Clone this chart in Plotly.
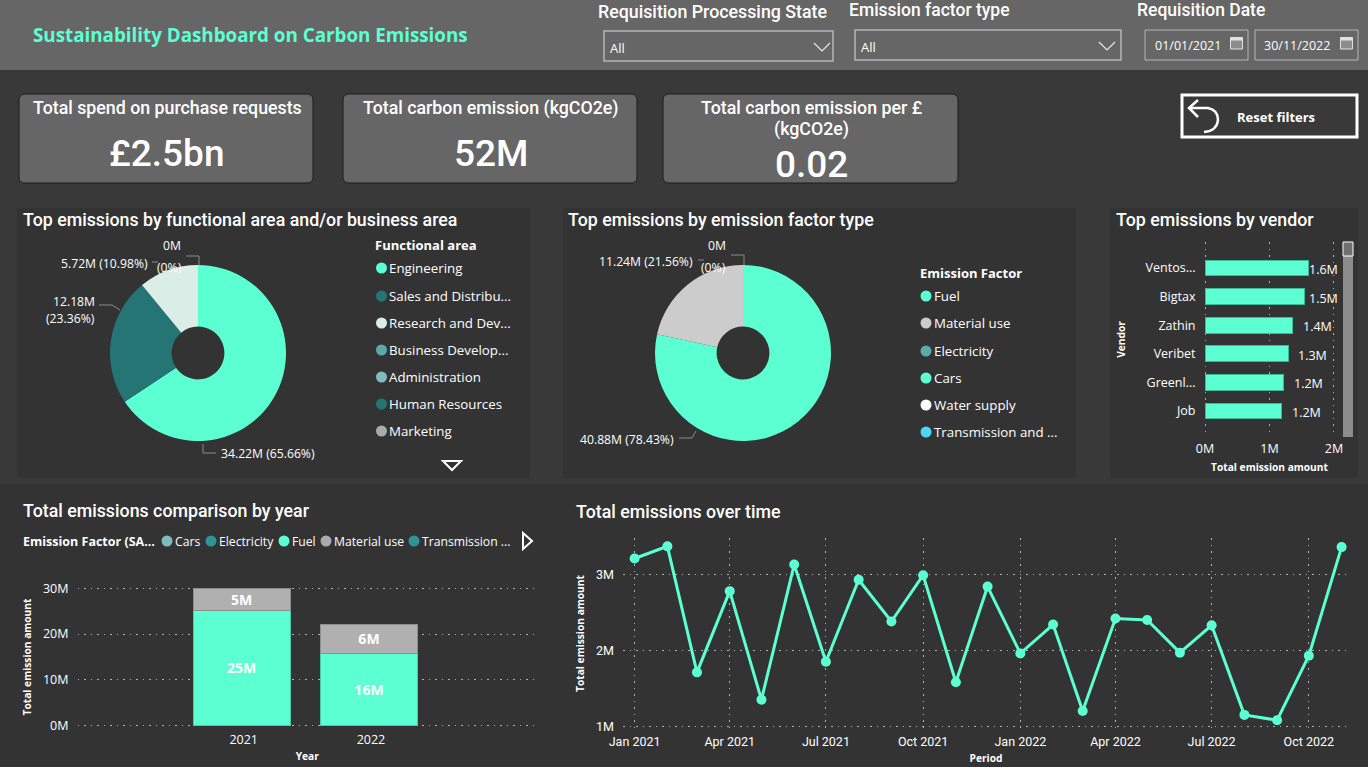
import plotly.graph_objects as go

W, H = 1368, 767
MINT = "#5CFFD2"
TITLE_FONT = "Roboto"
BODY_FONT = "Open Sans"

# ---- data ----
area_labels = ["Engineering", "Sales and Distribution", "Research and Development", "Other"]
area_values = [34.22, 12.18, 5.72, 0.001]
area_colors = [MINT, "#267575", "#DAEDE7", "#AAAAAA"]
factor_labels = ["Fuel", "Material use", "Other"]
factor_values = [40.88, 11.24, 0.001]
factor_colors = [MINT, "#CCCCCC", "#5BAAAA"]

area_legend = ["Engineering", "Sales and Distribu...", "Research and Dev...", "Business Develop...",
               "Administration", "Human Resources", "Marketing"]
area_legend_colors = [MINT, "#267575", "#DAEDE7", "#5BAAAA", "#7FBDBD", "#267575", "#AAAAAA"]
factor_legend = ["Fuel", "Material use", "Electricity", "Cars", "Water supply", "Transmission and ..."]
factor_legend_colors = [MINT, "#CCCCCC", "#5BAAAA", MINT, "#FFFFFF", "#4FD6F0"]

vendors = ["Ventos...", "Bigtax", "Zathin", "Veribet", "Greenl...", "Job"]
vendor_values = [1.61, 1.54, 1.36, 1.29, 1.22, 1.19]
vendor_text = ["1.6M", "1.5M", "1.4M", "1.3M", "1.2M", "1.2M"]

years = [2021, 2022]
fuel_by_year = [25.2, 15.8]
material_by_year = [4.8, 6.3]
fuel_text = ["25M", "16M"]
material_text = ["5M", "6M"]
year_legend = ["Cars", "Electricity", "Fuel", "Material use", "Transmission ..."]
year_legend_colors = ["#7FBDBD", "#2F9494", MINT, "#AAAAAA", "#2F9494"]

periods = ["2021-01-01", "2021-02-01", "2021-03-01", "2021-04-01", "2021-05-01", "2021-06-01",
           "2021-07-01", "2021-08-01", "2021-09-01", "2021-10-01", "2021-11-01", "2021-12-01",
           "2022-01-01", "2022-02-01", "2022-03-01", "2022-04-01", "2022-05-01", "2022-06-01",
           "2022-07-01", "2022-08-01", "2022-09-01", "2022-10-01", "2022-11-01"]
period_values = [3.21, 3.37, 1.71, 2.78, 1.35, 3.13, 1.85, 2.93, 2.38, 2.99, 1.58, 2.84,
                 1.96, 2.34, 1.20, 2.42, 2.40, 1.97, 2.33, 1.15, 1.08, 1.93, 3.36]


def px(x):
    return x / W


def py(y):
    return 1 - y / H


def dom_x(a, b):
    return [px(a), px(b)]


def dom_y(top, bottom):
    return [py(bottom), py(top)]


shapes, annots = [], []


def rect(x0, y0, x1, y1, fill="rgba(0,0,0,0)", line=None, lw=0):
    shapes.append(dict(type="rect", xref="paper", yref="paper", x0=px(x0), x1=px(x1), y0=py(y1), y1=py(y0),
                       fillcolor=fill, line=dict(color=line or "rgba(0,0,0,0)", width=lw), layer="below"))


def rrect(x0, y0, x1, y1, r, fill, line):
    p = (f"M {px(x0+r)} {py(y0)} L {px(x1-r)} {py(y0)} Q {px(x1)} {py(y0)} {px(x1)} {py(y0+r)} "
         f"L {px(x1)} {py(y1-r)} Q {px(x1)} {py(y1)} {px(x1-r)} {py(y1)} "
         f"L {px(x0+r)} {py(y1)} Q {px(x0)} {py(y1)} {px(x0)} {py(y1-r)} "
         f"L {px(x0)} {py(y0+r)} Q {px(x0)} {py(y0)} {px(x0+r)} {py(y0)} Z")
    shapes.append(dict(type="path", xref="paper", yref="paper", path=p, fillcolor=fill,
                       line=dict(color=line, width=1), layer="below"))


def poly(points, color="#FFFFFF", lw=1, layer="above", fill="rgba(0,0,0,0)", close=False):
    p = "M " + " L ".join(f"{px(x)} {py(y)}" for x, y in points) + (" Z" if close else "")
    shapes.append(dict(type="path", xref="paper", yref="paper", path=p, fillcolor=fill,
                       line=dict(color=color, width=lw), layer=layer))


def text(x, y, s, size=13, color="#FFFFFF", font=BODY_FONT, anchor="left", bold=False, weight=None):
    f = dict(size=size, color=color, family=font)
    if weight:
        f["weight"] = weight
    if anchor == "left":
        x -= 1
    annots.append(dict(xref="paper", yref="paper", x=px(x), y=py(y), text=f"<b>{s}</b>" if bold else s,
                       showarrow=False, xanchor=anchor, yanchor="middle", align="center" if anchor == "center" else anchor,
                       font=f, borderpad=0))


def head(x, y, s, size=17.8, anchor="left"):
    text(x, y, s, size, font=TITLE_FONT, anchor=anchor, weight=500)


def dot(x, y, color, r=5.5):
    shapes.append(dict(type="circle", xref="paper", yref="paper", x0=px(x - r), x1=px(x + r), y0=py(y + r), y1=py(y - r),
                       fillcolor=color, line=dict(width=0), layer="above"))


# ---- backgrounds ----
rect(0, 0, W, 70, "#666666")
rect(17, 208, 530, 478, "#333333")
rect(563, 208, 1076, 478, "#333333")
rect(1110, 208, 1358, 478, "#333333")
rect(0, 484, W, H, "#333333")

# header
text(33, 35, "Sustainability Dashboard on Carbon Emissions", 18.8, MINT, BODY_FONT, bold=True)
head(598, 11, "Requisition Processing State", 17.8)
head(849, 10, "Emission factor type", 17.5)
head(1137, 10, "Requisition Date", 17.5)
rect(604, 31, 833, 61, line="#B5B5B5", lw=1.5)
rect(855, 30, 1121, 60, line="#B5B5B5", lw=1.5)
rect(1145, 30, 1248, 60, line="#B5B5B5", lw=1)
rect(1255, 30, 1358, 60, line="#B5B5B5", lw=1)
text(610, 48, "All", 13)
text(861, 47, "All", 13)
text(1155, 45, "01/01/2021", 12.5)
text(1264, 45, "30/11/2022", 12.5)
poly([(814, 43), (822, 51), (830, 43)], "#E8E8E8", 1.2)
poly([(1099, 42), (1107, 50), (1115, 42)], "#E8E8E8", 1.2)
for cx in (1236.5, 1346.5):
    rect(cx - 6, 37.5, cx + 6, 49, "#8C8C8C", "#E0E0E0", 1)
    rect(cx - 6, 37.5, cx + 6, 40.5, "#E0E0E0")

# KPI cards
for x0, x1 in ((19, 313), (343, 637), (663, 958)):
    rrect(x0, 94, x1, 183, 6, "#666666", "#1C1C1C")
head(167, 108, "Total spend on purchase requests", anchor="center")
head(167, 154, "£2.5bn", 37, anchor="center")
head(491, 108, "Total carbon emission (kgCO2e)", anchor="center")
head(491, 154, "52M", 37, anchor="center")
head(811, 108, "Total carbon emission per £", anchor="center")
head(811, 129, "(kgCO2e)", anchor="center")
head(811, 164, "0.02", 37, anchor="center")

# reset button
rect(1182, 95, 1357, 137, line="#FFFFFF", lw=3)
text(1276, 117, "Reset filters", 13, bold=True, anchor="center")
poly([(1198, 100), (1189, 108), (1198, 117)], "#FFFFFF", 2.5)
shapes.append(dict(type="path", xref="paper", yref="paper", layer="above", line=dict(color="#FFFFFF", width=2.5),
                   path=f"M {px(1189)} {py(108)} L {px(1208)} {py(108)} Q {px(1218)} {py(110)} {px(1218)} {py(120)} "
                        f"Q {px(1217)} {py(131)} {px(1204)} {py(132)}"))

# panel titles
head(23, 219.5, "Top emissions by functional area and/or business area")
head(568, 219.5, "Top emissions by emission factor type")
head(1116, 219.5, "Top emissions by vendor")
head(23, 510.5, "Total emissions comparison by year")
head(576, 511.5, "Total emissions over time")

# donut labels and leader lines
LAB = 12.2
text(172, 246, "0M", LAB, anchor="center")
text(169, 267, "(0%)", LAB, anchor="center")
text(104, 263, "5.72M (10.98%)", LAB, anchor="center")
text(74, 301, "12.18M", LAB, anchor="center")
text(70, 318, "(23.36%)", LAB, anchor="center")
text(268, 453, "34.22M (65.66%)", LAB, anchor="center")
poly([(186, 256), (199, 256), (199, 265)], "#8A8A8A")
poly([(152, 262), (158, 262)], "#8A8A8A")
poly([(99, 305), (112, 305), (120, 310)], "#8A8A8A")
poly([(203, 444), (203, 453), (216, 453)], "#8A8A8A")
text(717, 246, "0M", LAB, anchor="center")
text(714, 267, "(0%)", LAB, anchor="center")
text(646, 262, "11.24M (21.56%)", LAB, anchor="center")
text(627, 439, "40.88M (78.43%)", LAB, anchor="center")
poly([(731, 255), (744, 255), (744, 265)], "#8A8A8A")
poly([(698, 260), (704, 260)], "#8A8A8A")
poly([(679, 438), (692, 438), (696, 431)], "#8A8A8A")

# donut legends
text(375, 245, "Functional area", 13, bold=True)
for lab, col, yy in zip(area_legend, area_legend_colors, [268, 296, 323, 350, 377, 404, 431]):
    dot(381.5, yy, col)
    text(389, yy, lab, 13.3)
poly([(443, 461), (461, 461), (452, 470)], "#FFFFFF", 2, close=True)

text(920, 273, "Emission Factor", 13, bold=True)
for lab, col, yy in zip(factor_legend, factor_legend_colors, [296, 323, 351, 378, 405, 432]):
    dot(926, yy, col)
    text(934, yy, lab, 13.3)

# year legend
text(23, 541, "Emission Factor (SA...", 12.5, bold=True)
for lab, col, xx in zip(year_legend, year_legend_colors, [167, 211, 284, 326, 414]):
    dot(xx, 541, col)
    text(xx + 8, 541, lab, 12.2)
poly([(523, 533), (523, 549), (532, 541)], "#FFFFFF", 2, close=True)

# vendor scrollbar
rect(1343, 242, 1353, 437, "#8C8C8C")
rect(1343, 242, 1353, 256, "#707070", "#FFFFFF", 1)

# vendor value labels: sit clear of the bar, held inside the plot on the right
for vendor, val, lab in zip(vendors, vendor_values, vendor_text):
    bar_end = 1205 + val / 2 * 129
    annots.append(dict(xref="x", yref="y", x=val, y=vendor, text=lab, showarrow=False, xanchor="left", yanchor="middle",
                       xshift=min(9, 1334 - 26 - bar_end), yshift=-1.5, borderpad=0,
                       font=dict(size=12.5, color="#FFFFFF", family=BODY_FONT)))

fig = go.Figure()

fig.add_trace(go.Pie(labels=area_labels, values=area_values, hole=0.3, sort=False, direction="clockwise", rotation=0,
                     marker=dict(colors=area_colors, line=dict(width=0)), textinfo="none", showlegend=False,
                     domain=dict(x=dom_x(110, 286), y=dom_y(265, 441))))
fig.add_trace(go.Pie(labels=factor_labels, values=factor_values, hole=0.3, sort=False, direction="clockwise", rotation=0,
                     marker=dict(colors=factor_colors, line=dict(width=0)), textinfo="none", showlegend=False,
                     domain=dict(x=dom_x(655, 831), y=dom_y(265, 441))))

# vendor bars
fig.add_trace(go.Bar(y=vendors, x=vendor_values, orientation="h", width=0.55,
                     marker=dict(color=MINT, line=dict(color="#3FB89A", width=1)), xaxis="x", yaxis="y", showlegend=False))

# yearly stacked bars
fig.add_trace(go.Bar(x=years, y=fuel_by_year, width=0.76, text=fuel_text, textposition="inside", insidetextanchor="middle",
                     textangle=0, constraintext="none", textfont=dict(size=14, color="#FFFFFF", family=BODY_FONT, weight=700),
                     name="Fuel", marker=dict(color=MINT, line=dict(color="#48C9A8", width=1)), xaxis="x2", yaxis="y2", showlegend=False))
fig.add_trace(go.Bar(x=years, y=material_by_year, width=0.76, text=material_text, textposition="inside", insidetextanchor="middle",
                     textangle=0, constraintext="none", textfont=dict(size=14, color="#FFFFFF", family=BODY_FONT, weight=700),
                     name="Material use", marker=dict(color="#B0B0B0", line=dict(color="#8E8E8E", width=1)), xaxis="x2", yaxis="y2", showlegend=False))

# time line
fig.add_trace(go.Scatter(x=periods, y=period_values, mode="lines+markers", line=dict(color=MINT, width=3),
                         marker=dict(color=MINT, size=10), cliponaxis=False, xaxis="x3", yaxis="y3", showlegend=False))

GRID = "#B0B0B0"
DOT = "1.5px,5px"
TICK = dict(size=12.5, color="#FFFFFF", family=BODY_FONT)
TICK2 = dict(size=12.5, color="#FFFFFF", family=TITLE_FONT)
TITLE = dict(size=10.2, color="#FFFFFF", family=BODY_FONT)


def axis_title(s, standoff=None):
    d = dict(text=f"<b>{s}</b>", font=TITLE)
    if standoff is not None:
        d["standoff"] = standoff
    return d


fig.update_layout(
    width=W, height=H, margin=dict(l=0, r=0, t=0, b=0, autoexpand=False), autosize=False,
    paper_bgcolor="#393939", plot_bgcolor="rgba(0,0,0,0)", barmode="stack", shapes=shapes, annotations=annots,
    font=dict(family=BODY_FONT, color="#FFFFFF"), hovermode=False,
    xaxis=dict(domain=dom_x(1202.5, 1336.5), range=[-0.039, 2.039], tickvals=[0, 1, 2], ticktext=["0M", "1M", "2M"], showgrid=True,
               griddash=DOT, gridcolor=GRID, zeroline=False, tickfont=TICK, anchor="y", ticklabelstandoff=2,
               title=axis_title("Total emission amount", 8), showline=False),
    yaxis=dict(domain=dom_y(242, 437), range=[5.91, -0.91], type="category", showgrid=False, zeroline=False, tickfont=TICK,
               anchor="x", ticklabelstandoff=6, title=axis_title("Vendor", 18)),
    xaxis2=dict(domain=dom_x(77.5, 537), range=[2019.71, 2023.32], tickvals=years, showgrid=False, zeroline=False,
                tickfont=TICK, anchor="y2", ticklabelstandoff=2, ticklabelshift=2, title=axis_title("Year", 6)),
    yaxis2=dict(domain=dom_y(585.7, 728.3), range=[-0.57, 30.57], tickvals=[0, 10, 20, 30], ticktext=["0M", "10M", "20M", "30M"],
                showgrid=True, griddash=DOT, gridcolor=GRID, zeroline=False, tickfont=TICK, anchor="x2", ticklabelstandoff=8,
                title=axis_title("Total emission amount", 9)),
    xaxis3=dict(domain=dom_x(623, 1349), type="date", range=["2020-12-21", "2022-11-08"], dtick="M3", tick0="2021-01-01",
                tickformat="%b %Y", showgrid=True, griddash=DOT, gridcolor=GRID, zeroline=False, tickfont=TICK2, anchor="y3",
                ticklabelstandoff=3, title=axis_title("Period", 7)),
    yaxis3=dict(domain=dom_y(538, 729), range=[0.964, 3.48], tickvals=[1, 2, 3], ticktext=["1M", "2M", "3M"], showgrid=True,
                griddash=DOT, gridcolor=GRID, zeroline=False, tickfont=TICK2, anchor="x3", ticklabelstandoff=8,
                title=axis_title("Total emission amount", 9)),
)

fig.write_html("out.html", config=dict(displayModeBar=False),
               post_script="document.body.style.margin='0';document.documentElement.style.overflow='hidden';")
